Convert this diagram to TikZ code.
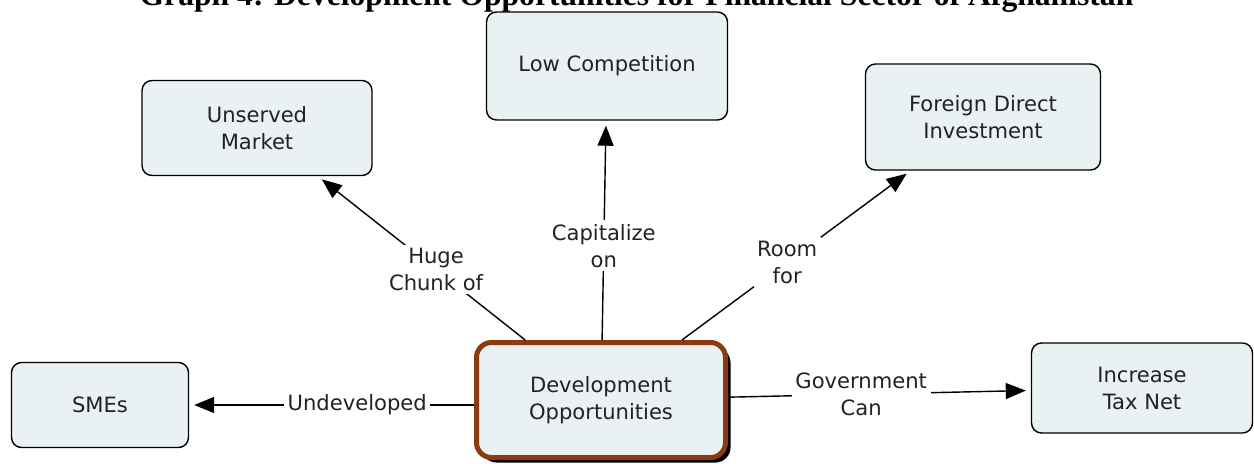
\documentclass[tikz,border=0pt]{standalone}
\usepackage{fontspec}
\setmainfont{DejaVu Sans}
\newfontfamily\titlefont{Liberation Serif}
\usetikzlibrary{arrows.meta,shadows}
\definecolor{myboxcolor}{HTML}{E9F1F3}
\definecolor{mycorecolor}{HTML}{8B3A12}
\definecolor{mytextcolor}{HTML}{222222}
\tikzset{
  maptext/.style={font={\fontsize{12pt}{15.4pt}\selectfont}, align=center, text=mytextcolor},
  leafbox/.style={maptext, draw, fill=myboxcolor, rectangle, rounded corners=0.2cm, line width=0.8pt},
  corebox/.style={maptext, draw=mycorecolor, fill=myboxcolor, rectangle, rounded corners=0.3cm, line width=0.1cm,
    drop shadow={shadow xshift=0.1cm, shadow yshift=-0.1cm, fill=black, opacity=1}},
  link/.style={-{Triangle[length=0.4cm, width=0.32cm]}, line width=0.8pt, shorten >=0.1cm},
  linklabel/.style={maptext, fill=white, inner sep=2pt}
}

\begin{document}
\begin{tikzpicture}%
\useasboundingbox (0, 0) rectangle (25.08, 9.26);%
\clip (0, 0) rectangle (25.08, 9.26);%
\node[anchor=base] (title) at (12.73, 9.15) {\titlefont\bfseries\fontsize{18pt}{18pt}\selectfont Graph 4: Development Opportunities for Financial Sector of Afghanistan};%
\node[corebox, minimum width=4.98cm, minimum height=2.3cm] (dev) at (12.02, 1.26) {Development\\Opportunities};%
\node[leafbox, minimum width=4.82cm, minimum height=2.16cm] (lowcomp) at (12.14, 7.94) {Low Competition};%
\node[leafbox, minimum width=4.6cm, minimum height=1.9cm] (unserved) at (5.14, 6.70) {Unserved\\Market};%
\node[leafbox, minimum width=4.7cm, minimum height=2.12cm] (fdi) at (19.66, 6.92) {Foreign Direct\\Investment};%
\node[leafbox, minimum width=3.54cm, minimum height=1.7cm] (smes) at (2.0, 1.16) {SMEs};%
\node[leafbox, minimum width=4.42cm, minimum height=1.8cm] (taxnet) at (22.84, 1.5) {Increase\\Tax Net};%
\draw[link] (dev) -- node[linklabel, pos=0.43] (hugechunk) {Huge\\Chunk of} (unserved);%
\draw[link] (dev) -- node[linklabel, pos=0.43] (capitalize) {Capitalize\\on} (lowcomp);%
\draw[link] (dev) -- node[linklabel, pos=0.46] (roomfor) {Room\\for} (fdi);%
\draw[link] (dev.west |- smes.east) -- node[linklabel, pos=0.41] (undeveloped) {Undeveloped} (smes.east);%
\draw[link] (dev) -- node[linklabel, pos=0.44] (govcan) {Government\\Can} (taxnet);%
\end{tikzpicture}
\end{document}
